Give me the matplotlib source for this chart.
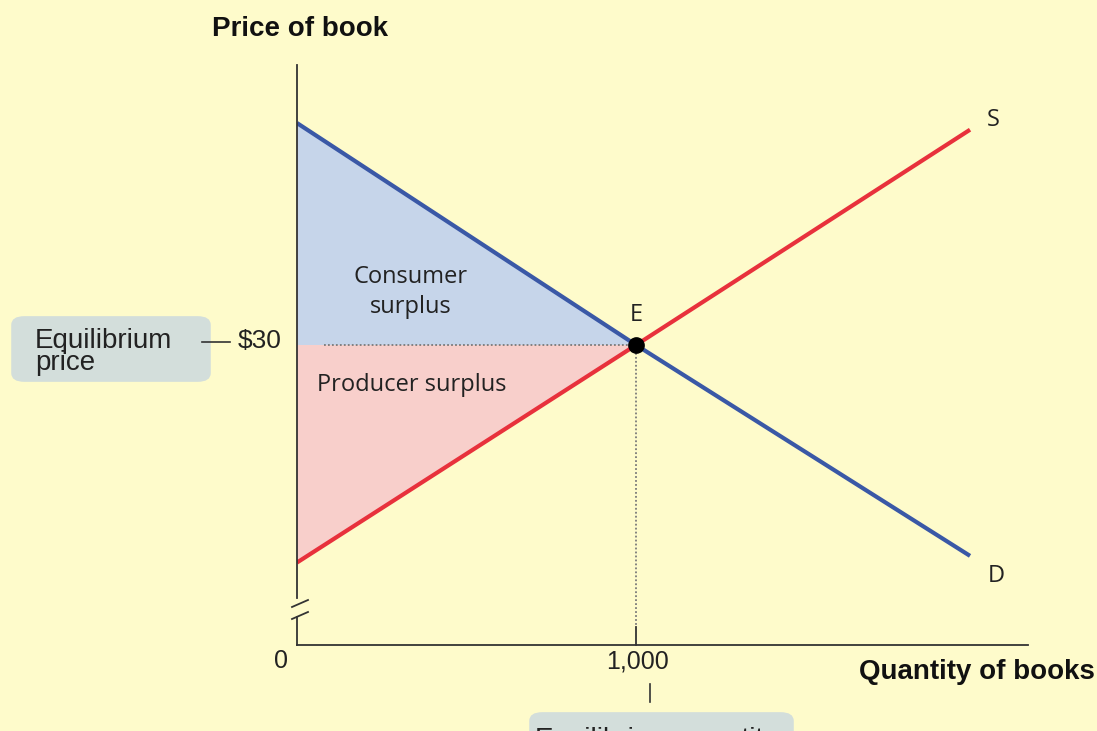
import matplotlib
matplotlib.use("Agg")
import matplotlib.pyplot as plt
from matplotlib.patches import FancyBboxPatch, Polygon
from matplotlib.lines import Line2D

# ---- data ----
demand_q = [0, 1000, 1985]
demand_p = [50.0, 30.0, 11.0]
supply_q = [0, 1000, 1985]
supply_p = [10.4, 30.0, 49.4]
eq_q = 1000
eq_p = 30
x_tick_labels = ["0", "1,000"]
y_tick_label = "$30"

BG = "#FEFBCB"
BLUE = "#3A58A6"
RED = "#E8313C"
BLUE_FILL = "#C6D5EA"
RED_FILL = "#F8CFCB"
BOX = "#D3DEDB"

W, H = 1097, 731
fig = plt.figure(figsize=(W / 100, H / 100), dpi=100, facecolor=BG)

def fx(px):
    return px / W

def fy(py):
    return 1 - py / H

left, right, top, bottom = 297, 1028, 65, 645
ax = fig.add_axes([fx(left), fy(bottom), fx(right) - fx(left), fy(top) - fy(bottom)])
ax.set_facecolor(BG)
ax.patch.set_alpha(0)
ax.set_xlim(0, 2156)
ax.set_ylim(2.97, 55.23)
for s in ax.spines.values():
    s.set_visible(False)
ax.set_xticks([])
ax.set_yticks([])

# surplus areas
ax.add_patch(Polygon([(0, demand_p[0]), (eq_q, eq_p), (0, eq_p)], closed=True,
                     facecolor=BLUE_FILL, edgecolor="none", zorder=1))
ax.add_patch(Polygon([(0, eq_p), (eq_q, eq_p), (0, supply_p[0])], closed=True,
                     facecolor=RED_FILL, edgecolor="none", zorder=1))

# dotted guide lines
ax.plot([80, eq_q], [eq_p, eq_p], color="#7a7a7a", lw=1.3, ls=(0, (1, 1.2)), zorder=2)
ax.plot([eq_q, eq_q], [eq_p, 4.8], color="#7a7a7a", lw=1.3, ls=(0, (1, 1.2)), zorder=2)

# curves
ax.plot(demand_q, demand_p, color=BLUE, lw=3, solid_capstyle="butt", zorder=3)
ax.plot(supply_q, supply_p, color=RED, lw=3, solid_capstyle="butt", zorder=3)
ax.plot([eq_q], [eq_p], "o", color="black", ms=11, zorder=4)

# axes lines (with break)
axc = "#333333"
fig.add_artist(Line2D([fx(297), fx(297)], [fy(65), fy(598)], color=axc, lw=1.3))
fig.add_artist(Line2D([fx(297), fx(297)], [fy(617), fy(645)], color=axc, lw=1.3))
fig.add_artist(Line2D([fx(292), fx(308)], [fy(607), fy(600)], color=axc, lw=1.3))
fig.add_artist(Line2D([fx(292), fx(308)], [fy(619), fy(612)], color=axc, lw=1.3))
fig.add_artist(Line2D([fx(297), fx(1028)], [fy(645), fy(645)], color=axc, lw=1.3))
fig.add_artist(Line2D([fx(636), fx(636)], [fy(627), fy(645)], color=axc, lw=1.3))

ARIAL = "Liberation Sans"
OPEN = "Open Sans"

# axis titles
fig.text(fx(300), fy(29), "Price of book", fontfamily=ARIAL, fontweight="bold",
         fontsize=20, ha="center", va="center", color="#111111")
fig.text(fx(977), fy(672), "Quantity of books", fontfamily=ARIAL, fontweight="bold",
         fontsize=20, ha="center", va="center", color="#111111")

# tick labels
fig.text(fx(281), fy(661), x_tick_labels[0], fontfamily=ARIAL, fontsize=18,
         ha="center", va="center", color="#222222")
fig.text(fx(637), fy(662), x_tick_labels[1], fontfamily=ARIAL, fontsize=18,
         ha="center", va="center", color="#222222")
fig.text(fx(260), fy(341), y_tick_label, fontfamily=ARIAL, fontsize=19,
         ha="center", va="center", color="#222222")

# equilibrium price callout
fig.add_artist(FancyBboxPatch((fx(20), fy(376)), fx(182), fy(322) - fy(376),
                              boxstyle="round,pad=0.008,rounding_size=0.012",
                              facecolor=BOX, edgecolor="none",
                              transform=fig.transFigure))
fig.text(fx(35), fy(352), "Equilibrium\nprice", fontfamily=ARIAL, fontsize=20,
         ha="left", va="center", color="#222222", linespacing=0.85)
fig.add_artist(Line2D([fx(202), fx(230)], [fy(342), fy(342)], color="#333333", lw=1.2))

# equilibrium quantity callout (cut off at bottom, as in the original)
fig.add_artist(Line2D([fx(650), fx(650)], [fy(684), fy(702)], color="#333333", lw=1.2))
fig.add_artist(FancyBboxPatch((fx(538), fy(745)), fx(247), fy(718) - fy(745),
                              boxstyle="round,pad=0.008,rounding_size=0.012",
                              facecolor=BOX, edgecolor="none",
                              transform=fig.transFigure))
fig.text(fx(535), fy(740), "Equilibrium quantity", fontfamily=ARIAL, fontsize=20,
         ha="left", va="center", color="#222222")

# in-plot labels
fig.text(fx(411), fy(292), "Consumer\nsurplus", fontfamily=OPEN, fontsize=17,
         ha="center", va="center", color="#222222", linespacing=1.3)
fig.text(fx(412), fy(385), "Producer surplus", fontfamily=OPEN, fontsize=17,
         ha="center", va="center", color="#222222")
fig.text(fx(636), fy(315), "E", fontfamily=OPEN, fontsize=17,
         ha="center", va="center", color="#222222")
fig.text(fx(993), fy(120), "S", fontfamily=OPEN, fontsize=17,
         ha="center", va="center", color="#222222")
fig.text(fx(996), fy(576), "D", fontfamily=OPEN, fontsize=17,
         ha="center", va="center", color="#222222")

fig.savefig("out.png", dpi=100, facecolor=BG)
